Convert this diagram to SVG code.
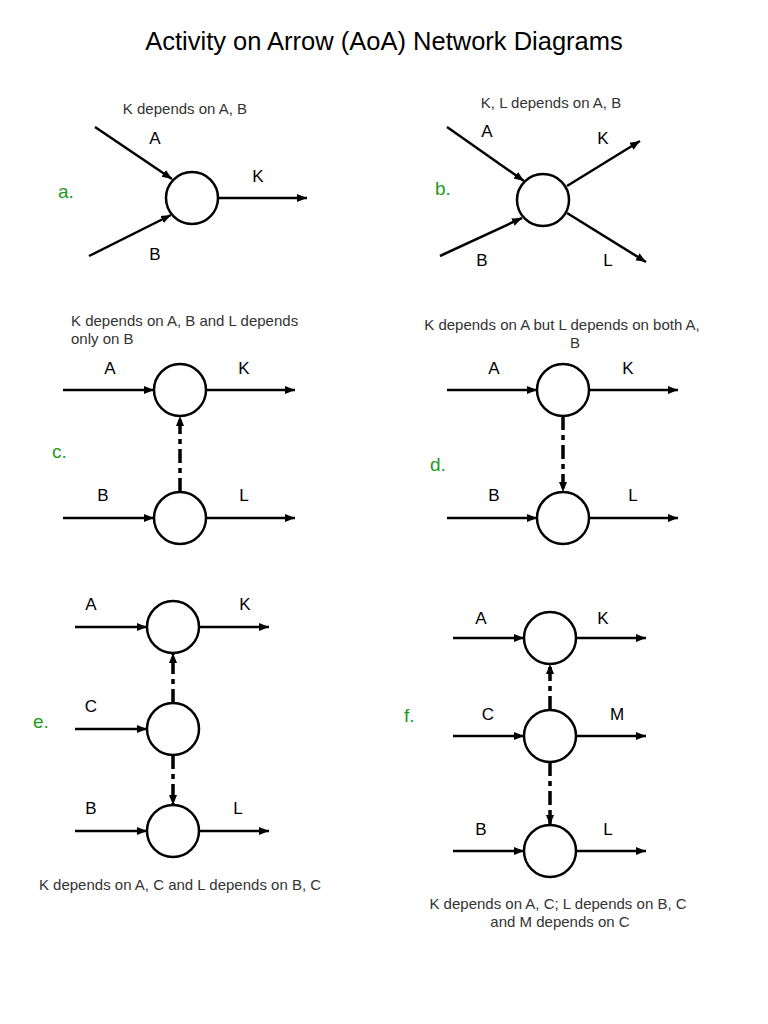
<svg xmlns="http://www.w3.org/2000/svg" width="768" height="1024" viewBox="0 0 768 1024">
<defs>
<marker id="ah" markerUnits="userSpaceOnUse" markerWidth="12" markerHeight="10" refX="10" refY="5" orient="auto">
<path d="M0,1 L10,5 L0,9 Z" fill="#000"/>
</marker>
<style>
.ln{stroke:#000;stroke-width:2.5;fill:none;marker-end:url(#ah)}
.dd{stroke:#000;stroke-width:3.5;fill:none;stroke-dasharray:14,5,5,5;marker-end:url(#ah)}
.nd{fill:#fff;stroke:#000;stroke-width:2.5}
.lb{font-family:"Liberation Sans",Arial,sans-serif;font-size:17px;fill:#000;text-anchor:middle}
.cap{font-family:"Liberation Sans",Arial,sans-serif;font-size:15px;fill:#333}
.tag{font-family:"Liberation Sans",Arial,sans-serif;font-size:19px;fill:#1e9a1e}
.ttl{font-family:"Liberation Sans",Arial,sans-serif;font-size:25.5px;fill:#000;text-anchor:middle}
</style>
</defs>
<rect width="768" height="1024" fill="#fff"/>
<text class="ttl" x="384" y="50">Activity on Arrow (AoA) Network Diagrams</text>

<g id="connectors">
<line class="ln" x1="95" y1="127" x2="172" y2="179"/>
<line class="ln" x1="89" y1="256" x2="171" y2="215"/>
<line class="ln" x1="218" y1="198" x2="307" y2="198"/>
<line class="ln" x1="447" y1="127" x2="524" y2="181"/>
<line class="ln" x1="440" y1="256" x2="522" y2="218"/>
<line class="ln" x1="567" y1="186" x2="640" y2="141"/>
<line class="ln" x1="567" y1="213" x2="646" y2="262"/>
<line class="ln" x1="63" y1="390" x2="154" y2="390"/>
<line class="ln" x1="206" y1="390" x2="295" y2="390"/>
<line class="ln" x1="63" y1="518" x2="154" y2="518"/>
<line class="ln" x1="206" y1="518" x2="295" y2="518"/>
<line class="dd" x1="180" y1="492" x2="180" y2="416"/>
<line class="ln" x1="447" y1="390" x2="537" y2="390"/>
<line class="ln" x1="589" y1="390" x2="678" y2="390"/>
<line class="ln" x1="447" y1="518" x2="537" y2="518"/>
<line class="ln" x1="589" y1="518" x2="678" y2="518"/>
<line class="dd" x1="563" y1="416" x2="563" y2="492"/>
<line class="ln" x1="75" y1="627" x2="147" y2="627"/>
<line class="ln" x1="199" y1="627" x2="269" y2="627"/>
<line class="ln" x1="75" y1="729" x2="147" y2="729"/>
<line class="ln" x1="75" y1="831" x2="147" y2="831"/>
<line class="ln" x1="199" y1="831" x2="269" y2="831"/>
<line class="dd" x1="173" y1="703" x2="173" y2="653"/>
<line class="dd" x1="173" y1="755" x2="173" y2="805"/>
<line class="ln" x1="453" y1="638" x2="524" y2="638"/>
<line class="ln" x1="576" y1="638" x2="646" y2="638"/>
<line class="ln" x1="453" y1="736" x2="524" y2="736"/>
<line class="ln" x1="576" y1="736" x2="646" y2="736"/>
<line class="ln" x1="453" y1="851" x2="524" y2="851"/>
<line class="ln" x1="576" y1="851" x2="646" y2="851"/>
<line class="dd" x1="550" y1="710" x2="550" y2="664"/>
<line class="dd" x1="550" y1="762" x2="550" y2="825"/>
</g>

<g id="node-a"><circle class="nd" cx="192" cy="198" r="26"/></g>
<g id="node-b"><circle class="nd" cx="543" cy="200" r="26"/></g>
<g id="node-c1"><circle class="nd" cx="180" cy="390" r="26"/></g>
<g id="node-c2"><circle class="nd" cx="180" cy="518" r="26"/></g>
<g id="node-d1"><circle class="nd" cx="563" cy="390" r="26"/></g>
<g id="node-d2"><circle class="nd" cx="563" cy="518" r="26"/></g>
<g id="node-e1"><circle class="nd" cx="173" cy="627" r="26"/></g>
<g id="node-e2"><circle class="nd" cx="173" cy="729" r="26"/></g>
<g id="node-e3"><circle class="nd" cx="173" cy="831" r="26"/></g>
<g id="node-f1"><circle class="nd" cx="550" cy="638" r="26"/></g>
<g id="node-f2"><circle class="nd" cx="550" cy="736" r="26"/></g>
<g id="node-f3"><circle class="nd" cx="550" cy="851" r="26"/></g>

<g id="labels">
<text class="cap" x="185" y="114" text-anchor="middle">K depends on A, B</text>
<text class="lb" x="155" y="144">A</text>
<text class="lb" x="155" y="260">B</text>
<text class="lb" x="258" y="182">K</text>
<text class="tag" x="58" y="198">a.</text>

<text class="cap" x="551" y="108" text-anchor="middle">K, L depends on A, B</text>
<text class="lb" x="487" y="137">A</text>
<text class="lb" x="603" y="144">K</text>
<text class="lb" x="482" y="266">B</text>
<text class="lb" x="608" y="266">L</text>
<text class="tag" x="435" y="195">b.</text>

<text class="cap" x="71" y="326">K depends on A, B and L depends</text>
<text class="cap" x="71" y="344">only on B</text>
<text class="lb" x="110" y="374">A</text>
<text class="lb" x="244" y="374">K</text>
<text class="lb" x="103" y="501">B</text>
<text class="lb" x="244" y="501">L</text>
<text class="tag" x="52" y="458">c.</text>

<text class="cap" x="562" y="330" text-anchor="middle">K depends on A but L depends on both A,</text>
<text class="cap" x="575" y="348" text-anchor="middle">B</text>
<text class="lb" x="494" y="374">A</text>
<text class="lb" x="628" y="374">K</text>
<text class="lb" x="494" y="501">B</text>
<text class="lb" x="633" y="501">L</text>
<text class="tag" x="430" y="471">d.</text>

<text class="lb" x="91" y="610">A</text>
<text class="lb" x="245" y="610">K</text>
<text class="lb" x="91" y="712">C</text>
<text class="lb" x="91" y="814">B</text>
<text class="lb" x="238" y="814">L</text>
<text class="tag" x="33" y="728">e.</text>
<text class="cap" x="180" y="890" text-anchor="middle">K depends on A, C and L depends on B, C</text>

<text class="lb" x="481" y="624">A</text>
<text class="lb" x="603" y="624">K</text>
<text class="lb" x="488" y="720">C</text>
<text class="lb" x="617" y="720">M</text>
<text class="lb" x="481" y="835">B</text>
<text class="lb" x="608" y="835">L</text>
<text class="tag" x="404" y="722">f.</text>
<text class="cap" x="558" y="909" text-anchor="middle">K depends on A, C; L depends on B, C</text>
<text class="cap" x="560" y="927" text-anchor="middle">and M depends on C</text>
</g>
</svg>
